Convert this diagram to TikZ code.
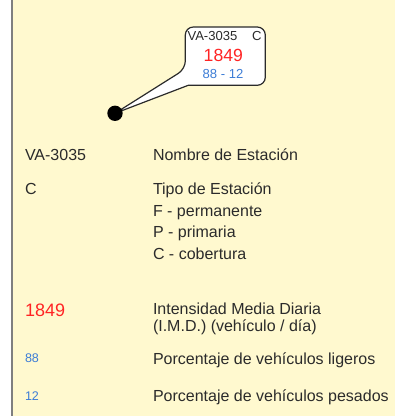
\documentclass[tikz,border=0pt]{standalone}
\usepackage{fontspec}
\setmainfont{Liberation Sans}
\usetikzlibrary{calc,backgrounds}
\definecolor{bgyellow}{HTML}{FFF9CF}
\definecolor{txt}{HTML}{2B2B2B}
\definecolor{imdred}{HTML}{FF2424}
\definecolor{pctblue}{HTML}{3D7DD6}
\definecolor{framegray}{HTML}{7F7F7F}
\begin{document}
\begin{tikzpicture}[x=0.75pt,y=-0.75pt,
  txtbase/.style={inner sep=0pt, outer sep=0pt},
  keytxt/.style={txtbase, anchor=base west, text=txt, font=\fontsize{12}{14}\selectfont},
  desctxt/.style={txtbase, anchor=base west, text=txt, font=\fontsize{12}{14}\selectfont},
  keyred/.style={txtbase, anchor=base west, text=imdred, font=\fontsize{13.5}{16}\selectfont},
  keyblue/.style={txtbase, anchor=base west, text=pctblue, font=\fontsize{9.4}{11}\selectfont},
  boxname/.style={txtbase, anchor=base west, text=txt, font=\fontsize{9.8}{11}\selectfont},
  boxred/.style={txtbase, anchor=base, text=imdred, font=\fontsize{13.2}{15}\selectfont},
  boxblue/.style={txtbase, anchor=base, text=pctblue, font=\fontsize{9.8}{11}\selectfont},
  calloutshape/.style={draw=txt, fill=white, line width=0.9pt, line join=round},
  stationdot/.style={circle, fill=black, inner sep=0pt, minimum size=11.5pt}]
\useasboundingbox (0,0) rectangle (395,416);
\begin{pgfonlayer}{background}
  \fill[bgyellow] (12,0) rectangle (395,416);
\end{pgfonlayer}
\draw[framegray, line width=1.5pt] (12,0) -- (12,416);

% callout
\node[txtbase, minimum width=60pt, minimum height=43.7pt] (callout) at (225.3,56.15) {};
\node[stationdot] (dot) at (115,113.3) {};
\coordinate (tailtop) at ($(callout.south west)+(0,-16.3)$);
\coordinate (tailbot) at ($(callout.south west)+(3,0)$);
\begin{pgfonlayer}{background}
  \draw[calloutshape] (callout.north) [rounded corners=6pt] -- (callout.north west) -- (tailtop)
    [sharp corners] -- (dot.center) -- (tailbot) -- (callout.south)
    [rounded corners=6pt] -- (callout.south east) -- (callout.north east) -- cycle;
\end{pgfonlayer}
\node[boxname] (cname) at (187.5,41) {VA-3035};
\node[boxname] (ctype) at (252,41) {C};
\node[boxred] (cimd) at (223.3,61.3) {1849};
\node[boxblue] (cpct) at (223,78.7) {88 - 12};

% legend
\node[keytxt] (k1) at (25,161) {VA-3035};
\node[desctxt] (d1) at (153,161) {Nombre de Estación};
\node[keytxt] (k2) at (25,195) {C};
\node[desctxt] (d2) at (153,195) {Tipo de Estación};
\node[desctxt] (d2a) at (153,216.5) {F - permanente};
\node[desctxt] (d2b) at (153,237.8) {P - primaria};
\node[desctxt] (d2c) at (153,259.3) {C - cobertura};
\node[keyred] (k3) at (25,316.7) {1849};
\node[desctxt] (d3) at (153,314) {Intensidad Media Diaria};
\node[desctxt] (d3a) at (153,331.7) {(I.M.D.) (vehículo / día)};
\node[keyblue] (k4) at (25,362.7) {88};
\node[desctxt] (d4) at (153,364) {Porcentaje de vehículos ligeros};
\node[keyblue] (k5) at (25,400.7) {12};
\node[desctxt] (d5) at (153,401) {Porcentaje de vehículos pesados};
\end{tikzpicture}
\end{document}
